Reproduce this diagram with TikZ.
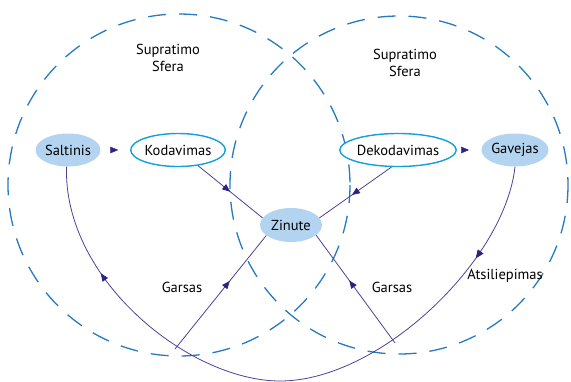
\documentclass[tikz,border=0pt]{standalone}
\usepackage{fontspec}
\setmainfont{PT Sans}
\usetikzlibrary{arrows.meta,decorations.markings,shapes.geometric}
\definecolor{dashblue}{RGB}{38,122,192}
\definecolor{fillblue}{RGB}{178,212,240}
\definecolor{edgecyan}{RGB}{20,160,222}
\definecolor{linepurple}{RGB}{80,64,150}
\definecolor{tipcol}{RGB}{44,36,128}
\tikzset{
  sphere/.style={draw=dashblue, line width=1.3pt, dash pattern=on 18pt off 13pt},
  filled/.style={ellipse, fill=fillblue, inner sep=0pt, minimum width=62pt, minimum height=33pt, font=\fontsize{14.5}{16}\selectfont},
  outlined/.style={ellipse, draw=edgecyan, line width=1.4pt, fill=white, inner sep=0pt, minimum height=33pt, font=\fontsize{14.5}{16}\selectfont},
  lbl/.style={font=\fontsize{14.5}{17}\selectfont, align=center},
  conn/.style={draw=linepurple, line width=0.8pt},
  midtip/.style={postaction={decorate}, decoration={markings, mark=at position #1 with {\arrow[tipcol]{Triangle[length=8pt,width=6.5pt]}}}},
}
\begin{document}
\begin{tikzpicture}[x=1pt,y=-1pt]
\useasboundingbox (0,0) rectangle (571,381);
% spheres
\draw[sphere] (179,185) circle[radius=171];
\draw[sphere] (399,185) circle[radius=169];
% labels
\node[lbl] (s1) at (168,58) {Supratimo\\Sfera};
\node[lbl] (s2) at (405,63) {Supratimo\\Sfera};
% nodes
\node[filled] (saltinis) at (68,150) {Saltinis};
\node[outlined, minimum width=78pt] (kodavimas) at (178,150) {Kodavimas};
\node[outlined, minimum width=97pt] (dekodavimas) at (398,150) {Dekodavimas};
\node[filled, minimum width=63pt] (gavejas) at (515,150) {Gavejas};
\node[filled, minimum width=62pt, minimum height=34pt] (zinute) at (291,225) {Zinute};
% small arrowheads between nodes
\path[midtip=0.6] (saltinis) -- (kodavimas);
\path[midtip=0.5] (dekodavimas) -- (gavejas);
% lines to/from message
\draw[conn, midtip=0.5] (kodavimas.-38) -- (zinute.166);
\draw[conn, midtip=0.55] (dekodavimas.249) -- (zinute.14);
% feedback curve
\coordinate (bottom) at (280,381);
\draw[conn, midtip=0.15, postaction={decorate, decoration={markings, mark=at position 0.83 with {\arrow[tipcol]{Triangle[length=8pt,width=6.5pt]}}}}]
  (gavejas.south) .. controls (505,260) and (380,381) .. (bottom)
  .. controls (190,381) and (63,280) .. (saltinis.265);
% noise lines
\coordinate (nl) at (175,349);
\coordinate (nr) at (395,343);
\draw[conn, midtip=0.6] (nl) -- (zinute.203);
\draw[conn, midtip=0.58] (nr) -- (zinute.-22);
\node[lbl] (g1) at (182,287) {Garsas};
\node[lbl] (g2) at (392,287) {Garsas};
\node[lbl] (at) at (505,276) {Atsiliepimas};
\end{tikzpicture}
\end{document}
